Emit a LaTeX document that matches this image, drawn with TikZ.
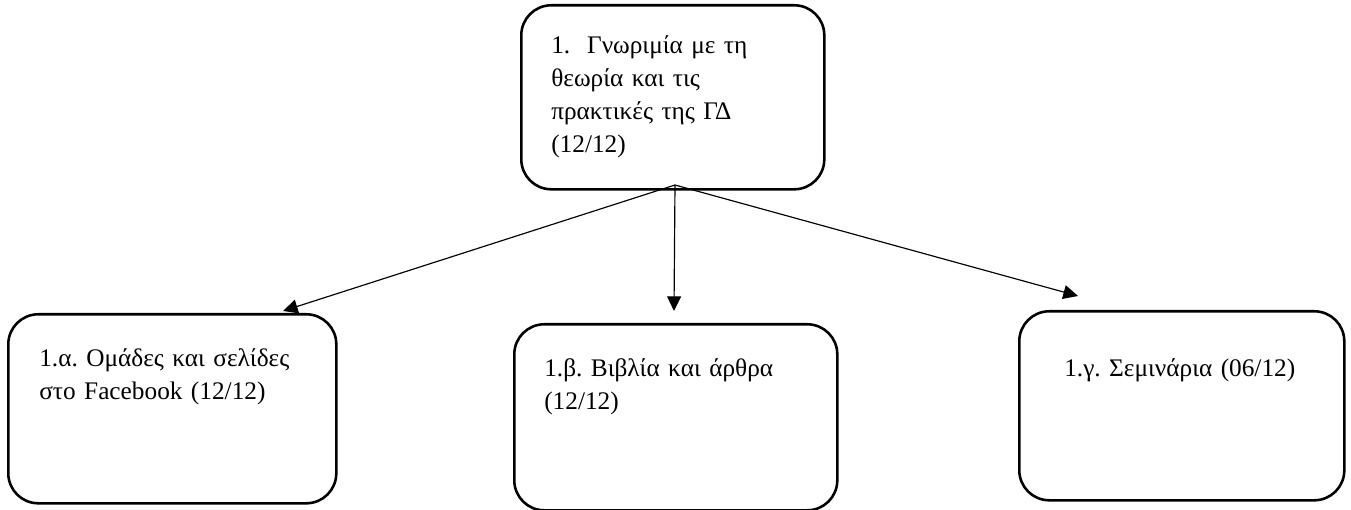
\documentclass[tikz,border=0pt]{standalone}
\usepackage{fontspec}
\setmainfont{Liberation Serif}
\frenchspacing
\usetikzlibrary{arrows.meta}

\begin{document}
\begin{tikzpicture}[x=0.015cm,y=-0.015cm,
  box/.style={draw,line width=1.1pt,rounded corners=0.45cm,anchor=north west,align=left,inner ysep=0pt,font=\fontsize{10.8}{14.1}\selectfont},
  link/.style={-{Triangle[length=2.2mm,width=2.1mm]},line width=0.5pt}]
  \useasboundingbox (0,0) rectangle (1351,510);
  % top box
  \node[box,inner xsep=0.45cm,text width=3.645cm,text height=0.72cm,text depth=2.04cm] (theory) at (520,4) {1.\ \ Γνωριμία με τη\\θεωρία και τις\\πρακτικές της ΓΔ\\(12/12)};
  % bottom boxes
  \node[box,inner xsep=0.465cm,text width=3.99cm,text height=0.78cm,text depth=2.055cm] (groups) at (7,313) {1.α. Ομάδες και σελίδες\\στο Facebook (12/12)};
  \node[box,inner xsep=0.45cm,text width=3.945cm,text height=0.78cm,text depth=2.01cm] (books) at (513,323) {1.β. Βιβλία και άρθρα\\(12/12)};
  \node[box,inner xsep=0.675cm,text width=3.525cm,text height=0.975cm,text depth=1.86cm] (seminars) at (1018,310) {1.γ. Σεμινάρια (06/12)};
  % arrows
  \coordinate (hub) at (675,185);
  \coordinate (groups-in) at (283,311);
  \coordinate (books-in) at (674,311);
  \coordinate (seminars-in) at (1078,296);
  \draw[link] (hub) -- (groups-in);
  \draw[link] (hub) -- (books-in);
  \draw[link] (hub) -- (seminars-in);
\end{tikzpicture}
\end{document}
